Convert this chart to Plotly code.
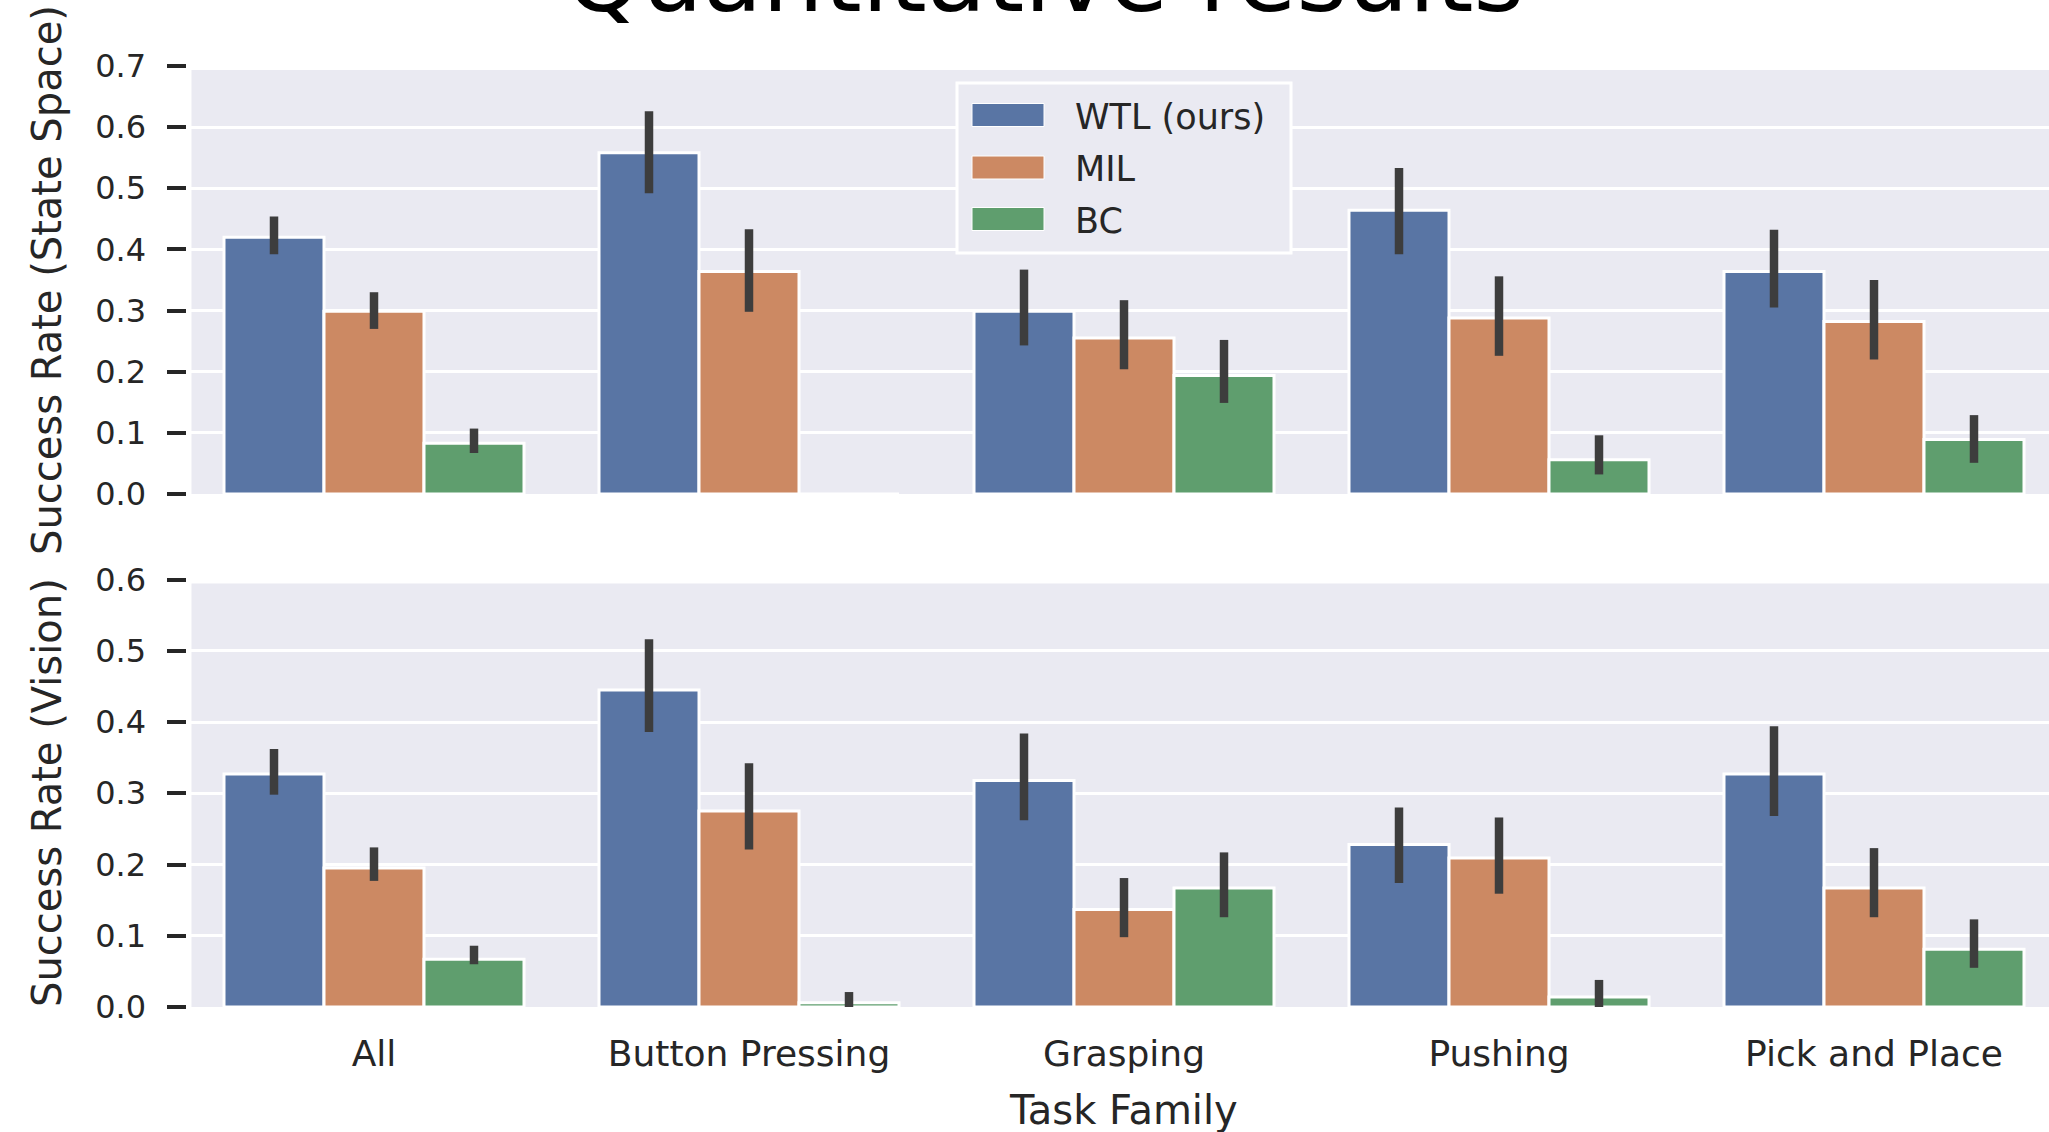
import plotly.graph_objects as go

# Task families and methods
categories = ["All", "Button Pressing", "Grasping", "Pushing", "Pick and Place"]
methods = ["WTL (ours)", "MIL", "BC"]
colors = ["#5975A4", "#CC8963", "#5F9E6E"]

# Success rate, state-space policies (mean and confidence interval bounds)
state_wtl = [0.420, 0.558, 0.299, 0.464, 0.364]
state_wtl_lo = [0.392, 0.492, 0.243, 0.392, 0.305]
state_wtl_hi = [0.454, 0.626, 0.367, 0.533, 0.432]
state_mil = [0.299, 0.364, 0.255, 0.288, 0.282]
state_mil_lo = [0.270, 0.298, 0.204, 0.226, 0.220]
state_mil_hi = [0.330, 0.433, 0.317, 0.356, 0.350]
state_bc = [0.083, 0.000, 0.194, 0.056, 0.089]
state_bc_lo = [0.067, 0.000, 0.149, 0.032, 0.051]
state_bc_hi = [0.107, 0.000, 0.252, 0.096, 0.129]

# Success rate, vision-based policies
vision_wtl = [0.327, 0.445, 0.318, 0.228, 0.327]
vision_wtl_lo = [0.298, 0.386, 0.262, 0.174, 0.268]
vision_wtl_hi = [0.362, 0.516, 0.384, 0.280, 0.394]
vision_mil = [0.195, 0.275, 0.137, 0.209, 0.167]
vision_mil_lo = [0.177, 0.221, 0.098, 0.159, 0.126]
vision_mil_hi = [0.224, 0.342, 0.181, 0.266, 0.223]
vision_bc = [0.067, 0.006, 0.167, 0.014, 0.081]
vision_bc_lo = [0.060, 0.000, 0.126, 0.000, 0.055]
vision_bc_hi = [0.086, 0.021, 0.217, 0.038, 0.123]

state_ticks = [0.0, 0.1, 0.2, 0.3, 0.4, 0.5, 0.6, 0.7]
vision_ticks = [0.0, 0.1, 0.2, 0.3, 0.4, 0.5, 0.6]

W, H = 2049, 1132
FONT = "DejaVu Sans"
TEXT = "#262626"
BG = "#EAEAF2"
ERR = "#3D3D3D"

# pixel layout helpers
def px(x):
    return x / W


def py(y):
    return 1 - y / H


x_left = 186.5
x_range = [-0.5, -0.5 + (W - x_left) / 375.0]

fig = go.Figure()

panels = [
    ("x", "y", [(state_wtl, state_wtl_lo, state_wtl_hi),
                (state_mil, state_mil_lo, state_mil_hi),
                (state_bc, state_bc_lo, state_bc_hi)]),
    ("x2", "y2", [(vision_wtl, vision_wtl_lo, vision_wtl_hi),
                  (vision_mil, vision_mil_lo, vision_mil_hi),
                  (vision_bc, vision_bc_lo, vision_bc_hi)]),
]

for xa, ya, series in panels:
    for name, color, (mean, lo, hi) in zip(methods, colors, series):
        fig.add_trace(go.Bar(
            x=categories, y=mean, name=name, xaxis=xa, yaxis=ya,
            marker=dict(color=color, line=dict(color="white", width=3)),
            error_y=dict(type="data", symmetric=False,
                         array=[h - m for h, m in zip(hi, mean)],
                         arrayminus=[m - l for m, l in zip(mean, lo)],
                         color=ERR, thickness=8.5, width=0),
            showlegend=False,
        ))

yaxis_common = dict(
    tickmode="array", tickformat=".1f",
    ticks="outside", ticklen=19, tickwidth=3.5, tickcolor=TEXT,
    tickfont=dict(family=FONT, size=32, color=TEXT),
    ticklabelstandoff=14,
    showgrid=True, gridcolor="white", gridwidth=3,
    zeroline=False, showline=False, automargin=False,
)
xaxis_common = dict(
    type="category", range=x_range, domain=[px(x_left), 1],
    showgrid=False, zeroline=False, showline=False, ticks="",
    automargin=False,
    tickfont=dict(family=FONT, size=36, color=TEXT),
)

top_dom = [py(494), py(66)]
bot_dom = [py(1007), py(579.5)]

fig.update_layout(
    width=W, height=H,
    margin=dict(l=0, r=0, t=0, b=0),
    paper_bgcolor="white", plot_bgcolor="white",
    barmode="group", bargap=0.2, bargroupgap=0.0,
    showlegend=False,
    font=dict(family=FONT, color=TEXT),
    xaxis=dict(**xaxis_common, anchor="y", showticklabels=False),
    xaxis2=dict(**xaxis_common, anchor="y2", showticklabels=True,
                ticklabelstandoff=22),
    yaxis=dict(**yaxis_common, domain=top_dom, range=[0, 0.7],
               tickvals=state_ticks, anchor="x"),
    yaxis2=dict(**yaxis_common, domain=bot_dom, range=[0, 0.6],
                tickvals=vision_ticks, anchor="x2"),
)

# panel backgrounds, inset slightly from the tick side
shapes = []
for xr, yr, hpx in [("x domain", "y domain", 428), ("x2 domain", "y2 domain", 427.5)]:
    shapes.append(dict(type="rect", xref=xr, yref=yr, layer="below",
                       x0=5 / (W - x_left), x1=1, y0=0, y1=1 - 4 / hpx,
                       fillcolor=BG, line=dict(width=0)))

# legend box
shapes.append(dict(type="rect", xref="paper", yref="paper",
                   x0=px(957), x1=px(1291), y0=py(253), y1=py(83),
                   fillcolor=BG, line=dict(color="white", width=3)))
legend_rows = [115, 167.5, 219]
annotations = []
for name, color, yc in zip(methods, colors, legend_rows):
    shapes.append(dict(type="rect", xref="paper", yref="paper",
                       x0=px(972), x1=px(1044), y0=py(yc + 11.5), y1=py(yc - 11.5),
                       fillcolor=color, line=dict(color="white", width=1)))
    annotations.append(dict(text=name, xref="paper", yref="paper",
                            x=px(1073), y=py(yc + 2), xanchor="left", yanchor="middle",
                            showarrow=False,
                            font=dict(family=FONT, size=35, color=TEXT)))

# axis titles
annotations.append(dict(text="Success Rate (State Space)", xref="paper", yref="paper",
                        x=px(47), y=py(280), textangle=-90, showarrow=False,
                        xanchor="center", yanchor="middle",
                        font=dict(family=FONT, size=40, color=TEXT)))
annotations.append(dict(text="Success Rate (Vision)", xref="paper", yref="paper",
                        x=px(47), y=py(793), textangle=-90, showarrow=False,
                        xanchor="center", yanchor="middle",
                        font=dict(family=FONT, size=40, color=TEXT)))
annotations.append(dict(text="Task Family", xref="paper", yref="paper",
                        x=px(1123), y=py(1110), showarrow=False,
                        xanchor="center", yanchor="middle",
                        font=dict(family=FONT, size=40, color=TEXT)))
# figure title
annotations.append(dict(text="Quantitative results", xref="paper", yref="paper",
                        x=px(1044), y=py(36), showarrow=False,
                        xanchor="center", yanchor="bottom",
                        font=dict(family=FONT, size=97, color="black")))

fig.update_layout(shapes=shapes, annotations=annotations)
fig.write_html("out.html")
